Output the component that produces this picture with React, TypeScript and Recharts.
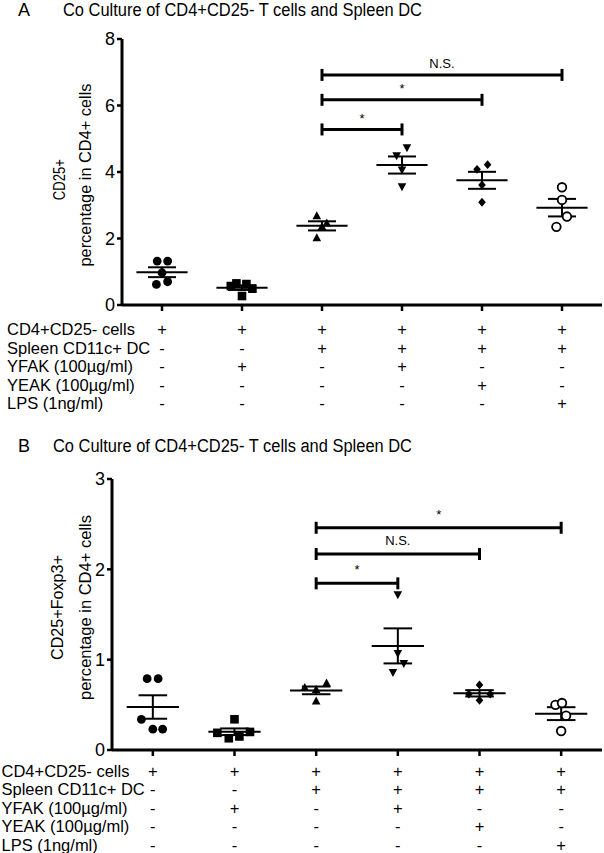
import React from 'react';
import { ScatterChart, Scatter, XAxis, YAxis, ReferenceLine } from 'recharts';

const FONT = '"Liberation Sans", Arial, Helvetica, sans-serif';

const panelTitle = 'Co Culture of CD4+CD25- T cells and Spleen DC';

const rowLabels = [
  'CD4+CD25- cells',
  'Spleen CD11c+ DC',
  'YFAK (100µg/ml)',
  'YEAK (100µg/ml)',
  'LPS (1ng/ml)',
];

const treatmentRows = [
  ['+', '+', '+', '+', '+', '+'],
  ['-', '-', '+', '+', '+', '+'],
  ['-', '+', '-', '+', '-', '-'],
  ['-', '-', '-', '-', '+', '-'],
  ['-', '-', '-', '-', '-', '+'],
];

const markerKinds = ['dot', 'square', 'triangleUp', 'triangleDown', 'diamond', 'ring'];

// Panel A: CD25+ percentage in CD4+ cells
const cd25Values = [
  [1.32, 1.32, 0.97, 0.62, 0.7],
  [0.57, 0.65, 0.63, 0.49, 0.27],
  [2.68, 2.02, 2.36, 2.46],
  [4.49, 4.73, 4.06, 3.56],
  [4.08, 4.22, 3.61, 3.09],
  [3.54, 3.16, 2.66, 2.35],
];
const cd25Jitter = [
  [-0.06, 0.07, 0, -0.07, 0.07],
  [-0.14, -0.07, 0.055, 0.13, 0],
  [-0.065, -0.065, 0, 0.06],
  [-0.067, 0.062, 0, 0],
  [-0.062, 0.07, 0, 0],
  [0, 0, 0.062, -0.07],
];
const cd25Ticks = [0, 2, 4, 6, 8];
const cd25Brackets = [
  { from: 2, to: 5, y: 6.92, label: 'N.S.' },
  { from: 2, to: 4, y: 6.17, label: '*' },
  { from: 2, to: 3, y: 5.28, label: '*' },
];

// Panel B: CD25+Foxp3+ percentage in CD4+ cells
const foxp3Values = [
  [0.79, 0.79, 0.34, 0.23, 0.23],
  [0.34, 0.19, 0.13, 0.15, 0.2],
  [0.54, 0.74, 0.67, 0.69],
  [1.72, 1.07, 0.96, 0.86],
  [0.72, 0.62, 0.62, 0.55],
  [0.5, 0.52, 0.38, 0.21],
];
const foxp3Jitter = [
  [-0.07, 0.065, -0.14, 0, 0.12],
  [0, -0.21, -0.07, 0.06, 0.19],
  [0, 0.127, 0, -0.14],
  [0, 0, 0.073, -0.06],
  [0, -0.13, 0.13, 0],
  [-0.07, 0.01, 0.06, 0],
];
const foxp3Ticks = [0, 1, 2, 3];
const foxp3Brackets = [
  { from: 2, to: 5, y: 2.46, label: '*' },
  { from: 2, to: 4, y: 2.17, label: 'N.S.' },
  { from: 2, to: 3, y: 1.845, label: '*' },
];

const mean = (a: number[]) => a.reduce((s, v) => s + v, 0) / a.length;
const sem = (a: number[]) => {
  const m = mean(a);
  const v = a.reduce((s, x) => s + (x - m) * (x - m), 0) / (a.length - 1);
  return Math.sqrt(v / a.length);
};

function Marker({ cx, cy, kind }: { cx: number; cy: number; kind: string }) {
  if (cx == null || cy == null) return null;
  switch (kind) {
    case 'dot':
      return <circle cx={cx} cy={cy} r={4.4} fill="#000" />;
    case 'square':
      return <rect x={cx - 4.3} y={cy - 4.3} width={8.6} height={8.6} fill="#000" />;
    case 'triangleUp':
      return <polygon points={`${cx},${cy - 4.6} ${cx + 4.3},${cy + 3.4} ${cx - 4.3},${cy + 3.4}`} fill="#000" />;
    case 'triangleDown':
      return <polygon points={`${cx},${cy + 4.6} ${cx + 4.3},${cy - 3.4} ${cx - 4.3},${cy - 3.4}`} fill="#000" />;
    case 'diamond':
      return <polygon points={`${cx},${cy - 4.4} ${cx + 3.8},${cy} ${cx},${cy + 4.4} ${cx - 3.8},${cy}`} fill="#000" />;
    default:
      return <circle cx={cx} cy={cy} r={4.3} fill="#fff" stroke="#000" strokeWidth={1.8} />;
  }
}

function TableTick(props: any) {
  const { x, y, payload, rowStart, rowGap, labelX } = props;
  const col = Math.round(payload.value);
  const axisY = y - 6;
  return (
    <g>
      {treatmentRows.map((row, r) => (
        <text key={r} x={x} y={axisY + rowStart + r * rowGap} textAnchor="middle" fontSize={16.5} fontFamily={FONT} fill="#000">
          {row[col]}
        </text>
      ))}
      {col === 0 &&
        rowLabels.map((lab, r) => (
          <text key={'l' + r} x={labelX} y={axisY + rowStart + r * rowGap} textAnchor="start" fontSize={16.5} fontFamily={FONT} fill="#000">
            {lab}
          </text>
        ))}
    </g>
  );
}

type PanelProps = {
  top: number;
  height: number;
  xAxisHeight: number;
  yAxisWidth: number;
  yMax: number;
  yTicks: number[];
  values: number[][];
  jitter: number[][];
  brackets: { from: number; to: number; y: number; label: string }[];
  rowStart: number;
  labelX: number;
  labelOffset: number;
};

function Panel(p: PanelProps) {
  const plotH = p.height - 39 - p.xAxisHeight;
  const capUnits = 6 / (plotH / p.yMax);
  const lineStyle = { stroke: '#000', strokeWidth: 2 };
  const bracketStyle = { stroke: '#000', strokeWidth: 3 };
  return (
    <div style={{ position: 'absolute', left: 0, top: p.top }}>
      <ScatterChart width={604} height={p.height} margin={{ top: 39, right: 2, bottom: 0, left: 0 }}>
        <XAxis
          type="number"
          dataKey="x"
          domain={[-0.5, 5.5]}
          ticks={[0, 1, 2, 3, 4, 5]}
          interval={0}
          allowDataOverflow
          height={p.xAxisHeight}
          tickSize={6}
          tickMargin={0}
          axisLine={{ stroke: '#000', strokeWidth: 3 }}
          tickLine={{ stroke: '#000', strokeWidth: 2.5 }}
          tick={<TableTick rowStart={p.rowStart} rowGap={18.5} labelX={p.labelX} />}
        />
        <YAxis
          type="number"
          dataKey="y"
          domain={[0, p.yMax]}
          ticks={p.yTicks}
          interval={0}
          width={p.yAxisWidth}
          tickSize={5}
          tickMargin={2}
          axisLine={{ stroke: '#000', strokeWidth: 3 }}
          tickLine={{ stroke: '#000', strokeWidth: 2.5 }}
          tick={{ fill: '#000', fontSize: 18, fontFamily: FONT }}
        />
        {p.values.map((vals, g) => (
          <Scatter
            key={'s' + g}
            data={vals.map((v, k) => ({ x: g + p.jitter[g][k], y: v }))}
            isAnimationActive={false}
            shape={(sp: any) => <Marker cx={sp.cx} cy={sp.cy} kind={markerKinds[g]} />}
          />
        ))}
        {p.values.map((vals, g) => {
          const m = mean(vals);
          const s = sem(vals);
          return [
            <ReferenceLine key={'m' + g} segment={[{ x: g - 0.32, y: m }, { x: g + 0.32, y: m }]} {...lineStyle} />,
            <ReferenceLine key={'u' + g} segment={[{ x: g - 0.175, y: m + s }, { x: g + 0.175, y: m + s }]} {...lineStyle} />,
            <ReferenceLine key={'d' + g} segment={[{ x: g - 0.175, y: m - s }, { x: g + 0.175, y: m - s }]} {...lineStyle} />,
            <ReferenceLine key={'v' + g} segment={[{ x: g, y: m - s }, { x: g, y: m + s }]} {...lineStyle} />,
          ];
        })}
        {p.brackets.map((b, i) => [
          <ReferenceLine
            key={'b' + i}
            segment={[{ x: b.from, y: b.y }, { x: b.to, y: b.y }]}
            {...bracketStyle}
            label={{ value: b.label, position: 'top', offset: p.labelOffset, fontSize: 13, fill: '#000', fontFamily: FONT }}
          />,
          <ReferenceLine key={'bl' + i} segment={[{ x: b.from, y: b.y - capUnits }, { x: b.from, y: b.y + capUnits }]} {...bracketStyle} />,
          <ReferenceLine key={'br' + i} segment={[{ x: b.to, y: b.y - capUnits }, { x: b.to, y: b.y + capUnits }]} {...bracketStyle} />,
        ])}
      </ScatterChart>
    </div>
  );
}

export default function App() {
  const t = { fontFamily: FONT, fill: '#000' };
  return (
    <div style={{ position: 'absolute', left: 0, top: 0, width: 604, height: 853, background: '#fff', overflow: 'hidden' }}>
      <Panel
        top={0}
        height={420}
        xAxisHeight={115}
        yAxisWidth={122}
        yMax={8}
        yTicks={cd25Ticks}
        values={cd25Values}
        jitter={cd25Jitter}
        brackets={cd25Brackets}
        rowStart={30}
        labelX={7}
        labelOffset={6.5}
      />
      <Panel
        top={440}
        height={413}
        xAxisHeight={103}
        yAxisWidth={112}
        yMax={3}
        yTicks={foxp3Ticks}
        values={foxp3Values}
        jitter={foxp3Jitter}
        brackets={foxp3Brackets}
        rowStart={26.7}
        labelX={1.5}
        labelOffset={9}
      />
      <svg width={604} height={853} style={{ position: 'absolute', left: 0, top: 0, pointerEvents: 'none' }}>
        <text x={18} y={16} fontSize={18} {...t}>A</text>
        <text x={63} y={16} fontSize={18} textLength={359} lengthAdjust="spacingAndGlyphs" {...t}>{panelTitle}</text>
        <text x={18} y={452} fontSize={18} {...t}>B</text>
        <text x={53} y={452} fontSize={18} textLength={359} lengthAdjust="spacingAndGlyphs" {...t}>{panelTitle}</text>
        <text transform="translate(65,179.7) rotate(-90)" textAnchor="middle" fontSize={16.5} textLength={41} lengthAdjust="spacingAndGlyphs" {...t}>CD25+</text>
        <text transform="translate(90.5,175) rotate(-90)" textAnchor="middle" fontSize={16.5} textLength={183} lengthAdjust="spacingAndGlyphs" {...t}>percentage in CD4+ cells</text>
        <text transform="translate(63,607.5) rotate(-90)" textAnchor="middle" fontSize={16.5} textLength={105} lengthAdjust="spacingAndGlyphs" {...t}>CD25+Foxp3+</text>
        <text transform="translate(90.5,607.5) rotate(-90)" textAnchor="middle" fontSize={16.5} textLength={185} lengthAdjust="spacingAndGlyphs" {...t}>percentage in CD4+ cells</text>
      </svg>
    </div>
  );
}
